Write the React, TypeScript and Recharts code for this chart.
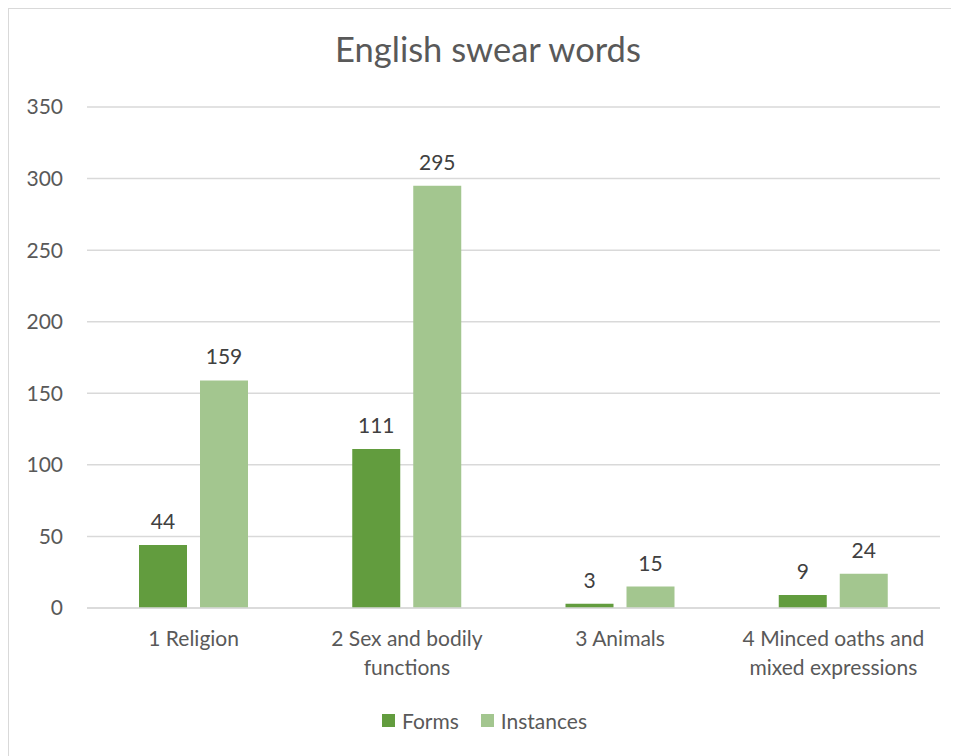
import React from "react";
import { BarChart, Bar, XAxis, YAxis, CartesianGrid, Legend, LabelList } from "recharts";

const categories = ["1 Religion", "2 Sex and bodily functions", "3 Animals", "4 Minced oaths and mixed expressions"];
const categoryLines: string[][] = [["1 Religion"], ["2 Sex and bodily", "functions"], ["3 Animals"], ["4 Minced oaths and", "mixed expressions"]];
const forms = [44, 111, 3, 9];
const instances = [159, 295, 15, 24];
const yTicks = [0, 50, 100, 150, 200, 250, 300, 350];

const data = categories.map((c, i) => ({ name: c, Forms: forms[i], Instances: instances[i] }));

const FONT = "Lato, 'Open Sans', sans-serif";
const AXIS_COLOR = "#595959";
const FORMS_COLOR = "#629C3E";
const INST_COLOR = "#A3C68F";
const FS = 21;

const XTick = (props: any) => {
  const { x, y, payload } = props;
  const idx = categories.indexOf(payload.value);
  const lines = idx >= 0 ? categoryLines[idx] : [payload.value];
  return (
    <text x={x} y={y} textAnchor="middle" fill={AXIS_COLOR} fontSize={FS} fontFamily={FONT}>
      {lines.map((l, i) => (
        <tspan key={i} x={x} dy={i === 0 ? 0 : 29}>{l}</tspan>
      ))}
    </text>
  );
};

const LegendContent = (props: any) => {
  const { payload } = props;
  return (
    <div style={{ display: "flex", justifyContent: "center", paddingLeft: 20, fontFamily: FONT, fontSize: FS, color: AXIS_COLOR, lineHeight: "25px" }}>
      {payload.map((p: any, i: number) => (
        <div key={i} style={{ display: "flex", alignItems: "center", marginRight: i === 0 ? 22 : 0 }}>
          <div style={{ width: 13, height: 13, background: p.color, marginRight: 7 }} />
          <span>{p.value}</span>
        </div>
      ))}
    </div>
  );
};

export default function App() {
  return (
    <div style={{ position: "relative", width: 951, height: 748, borderLeft: "1.5px solid #D9D9D9", borderTop: "1.5px solid #D9D9D9", boxSizing: "border-box", background: "#fff", overflow: "hidden" }}>
      <div style={{ position: "absolute", top: 19, left: 4, width: "100%", textAlign: "center", fontFamily: FONT, fontSize: 34.5, lineHeight: "41px", color: AXIS_COLOR }}>
        English swear words
      </div>
      <BarChart width={950} height={746} data={data} margin={{ top: 98, right: 19, left: 0, bottom: 22 }} barGap={13} barSize={48}>
        <CartesianGrid vertical={false} stroke="#D9D9D9" strokeWidth={1.5} />
        <XAxis dataKey="name" tick={<XTick />} tickLine={false} axisLine={{ stroke: "#D9D9D9", strokeWidth: 1.5 }} height={100} interval={0} tickMargin={32} />
        <YAxis domain={[0, 350]} ticks={yTicks} tickLine={false} axisLine={false} width={78} tick={{ fill: AXIS_COLOR, fontSize: FS, fontFamily: FONT }} tickMargin={18} />
        <Legend verticalAlign="bottom" content={<LegendContent />} />
        <Bar dataKey="Forms" fill={FORMS_COLOR} isAnimationActive={false}>
          <LabelList dataKey="Forms" position="top" offset={16} fill="#404040" fontSize={FS} fontFamily={FONT} />
        </Bar>
        <Bar dataKey="Instances" fill={INST_COLOR} isAnimationActive={false}>
          <LabelList dataKey="Instances" position="top" offset={16} fill="#404040" fontSize={FS} fontFamily={FONT} />
        </Bar>
      </BarChart>
    </div>
  );
}
